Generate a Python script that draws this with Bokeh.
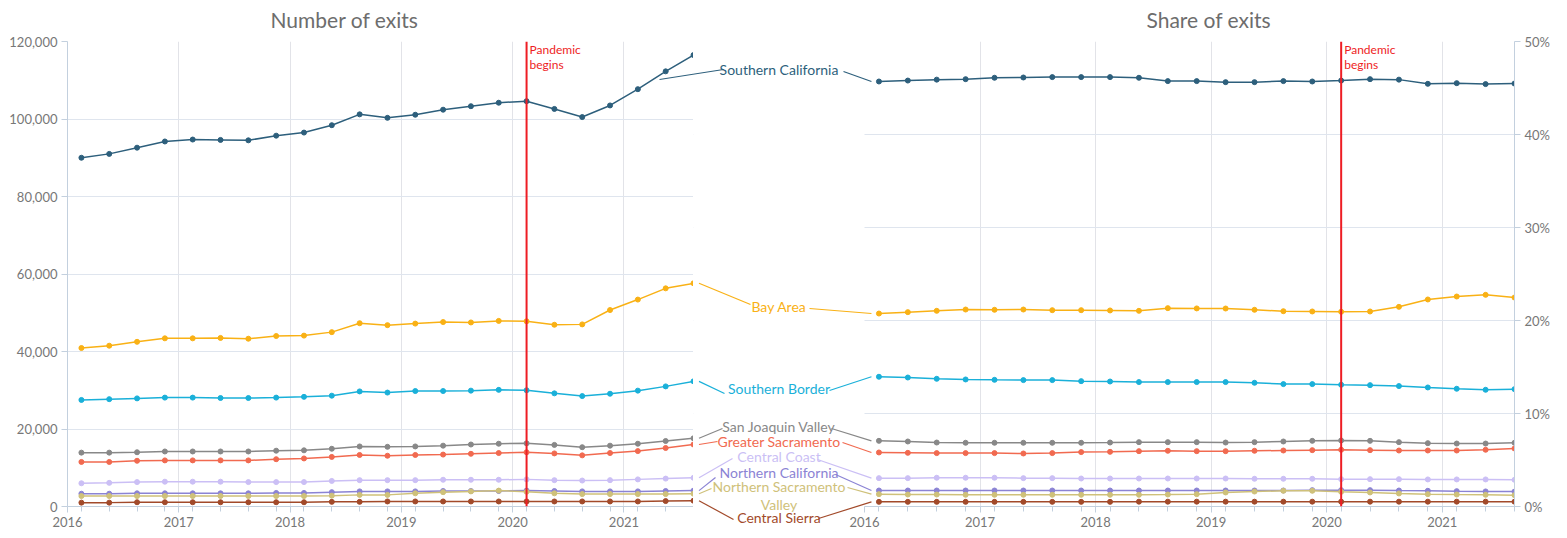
from bokeh.plotting import figure
from bokeh.models import Range1d, FixedTicker, NumeralTickFormatter, PrintfTickFormatter, Span, BoxAnnotation
from bokeh.layouts import row
from bokeh.embed import file_html
from bokeh.resources import INLINE
from bokeh.core.properties import value

# ---------------- data ----------------
dates = ["2016-02", "2016-05", "2016-08", "2016-11",
         "2017-02", "2017-05", "2017-08", "2017-11",
         "2018-02", "2018-05", "2018-08", "2018-11",
         "2019-02", "2019-05", "2019-08", "2019-11",
         "2020-02", "2020-05", "2020-08", "2020-11",
         "2021-02", "2021-05", "2021-08"]
year_ticks = [2016, 2017, 2018, 2019, 2020, 2021]
pandemic_date = "2020-02"
titles = ["Number of exits", "Share of exits"]

regions = ["Southern California", "Bay Area", "Southern Border", "San Joaquin Valley",
           "Greater Sacramento", "Central Coast", "Northern California",
           "Northern Sacramento Valley", "Central Sierra"]
region_labels = ["Southern California", "Bay Area", "Southern Border", "San Joaquin Valley",
                 "Greater Sacramento", "Central Coast", "Northern California",
                 "Northern Sacramento\nValley", "Central Sierra"]
colors = ["#2d5f7c", "#f9b115", "#1ab0d9", "#888888", "#f16a50",
          "#cbbff5", "#8b83d4", "#cfc17a", "#a24a2a"]

exits_socal = [90000, 91000, 92600, 94200, 94700, 94600, 94500, 95700, 96500, 98400, 101200, 100300,
               101100, 102400, 103300, 104200, 104600, 102600, 100500, 103500, 107700, 112300, 116500]
exits_bay = [40900, 41500, 42500, 43400, 43400, 43500, 43300, 44000, 44100, 45000, 47300, 46800,
             47200, 47600, 47500, 47900, 47800, 46900, 47000, 50700, 53400, 56300, 57600]
exits_border = [27500, 27700, 27900, 28100, 28100, 28000, 28000, 28100, 28300, 28600, 29700, 29400,
                29800, 29800, 29900, 30100, 30000, 29200, 28500, 29100, 29900, 31000, 32300]
exits_sjv = [13900, 13900, 14000, 14200, 14200, 14200, 14200, 14400, 14500, 14900, 15500, 15400,
             15500, 15700, 16000, 16200, 16300, 15900, 15300, 15700, 16200, 16900, 17600]
exits_gsac = [11500, 11500, 11800, 11900, 11900, 11900, 11900, 12200, 12400, 12800, 13300, 13100,
              13300, 13400, 13600, 13800, 14000, 13700, 13200, 13800, 14300, 15100, 16000]
exits_ccoast = [6000, 6100, 6300, 6400, 6400, 6400, 6300, 6300, 6300, 6600, 6800, 6800,
                6800, 6900, 6900, 6900, 7000, 6800, 6700, 6800, 7000, 7200, 7400]
exits_ncal = [3300, 3300, 3400, 3400, 3400, 3400, 3400, 3500, 3500, 3700, 3900, 3900,
              3900, 4000, 4000, 4000, 4100, 4000, 3900, 3900, 3900, 4000, 4100]
exits_nsac = [2700, 2700, 2700, 2700, 2700, 2700, 2700, 2700, 2700, 2800, 3000, 3000,
              3400, 3700, 3900, 4100, 3800, 3400, 3200, 3200, 3200, 3200, 3300]
exits_sierra = [1000, 1000, 1100, 1100, 1100, 1100, 1100, 1100, 1100, 1200, 1200, 1300,
                1300, 1300, 1300, 1300, 1300, 1300, 1300, 1300, 1300, 1400, 1500]

share_socal = [45.7, 45.8, 45.9, 45.95, 46.1, 46.13, 46.17, 46.17, 46.17, 46.1, 45.74, 45.74,
               45.63, 45.63, 45.74, 45.7, 45.8, 45.95, 45.9, 45.45, 45.52, 45.42, 45.48]
share_bay = [20.75, 20.9, 21.04, 21.18, 21.15, 21.18, 21.11, 21.11, 21.08, 21.04, 21.33, 21.3,
             21.29, 21.15, 21.0, 20.97, 20.94, 20.97, 21.47, 22.26, 22.58, 22.76, 22.47]
share_border = [13.95, 13.87, 13.73, 13.66, 13.62, 13.59, 13.59, 13.48, 13.44, 13.38, 13.38, 13.38,
                13.38, 13.3, 13.16, 13.16, 13.09, 13.05, 12.95, 12.8, 12.66, 12.55, 12.62]
share_sjv = [7.06, 6.99, 6.88, 6.85, 6.85, 6.85, 6.85, 6.85, 6.88, 6.92, 6.92, 6.92,
             6.88, 6.92, 6.99, 7.06, 7.1, 7.06, 6.92, 6.81, 6.77, 6.77, 6.85]
share_gsac = [5.81, 5.77, 5.74, 5.74, 5.74, 5.7, 5.74, 5.85, 5.88, 5.95, 5.99, 5.95,
              5.95, 5.99, 6.02, 6.06, 6.1, 6.06, 6.02, 6.02, 6.02, 6.1, 6.24]
share_ccoast = [3.05, 3.05, 3.09, 3.09, 3.09, 3.05, 3.05, 3.01, 3.01, 3.01, 3.01, 3.01,
                3.01, 2.98, 2.98, 2.98, 2.94, 2.94, 2.94, 2.91, 2.91, 2.91, 2.87]
share_ncal = [1.72, 1.72, 1.72, 1.72, 1.72, 1.72, 1.72, 1.72, 1.72, 1.72, 1.72, 1.72,
              1.72, 1.72, 1.72, 1.76, 1.76, 1.76, 1.72, 1.69, 1.65, 1.62, 1.6]
share_nsac = [1.33, 1.29, 1.29, 1.26, 1.26, 1.26, 1.26, 1.26, 1.26, 1.26, 1.29, 1.33,
              1.51, 1.61, 1.69, 1.69, 1.58, 1.51, 1.4, 1.33, 1.29, 1.26, 1.22]
share_sierra = [0.5, 0.5, 0.5, 0.5, 0.5, 0.5, 0.5, 0.5, 0.5, 0.52, 0.52, 0.52,
                0.52, 0.52, 0.52, 0.52, 0.52, 0.52, 0.52, 0.52, 0.52, 0.52, 0.52]

exits = [exits_socal, exits_bay, exits_border, exits_sjv, exits_gsac,
         exits_ccoast, exits_ncal, exits_nsac, exits_sierra]
shares = [share_socal, share_bay, share_border, share_sjv, share_gsac,
          share_ccoast, share_ncal, share_nsac, share_sierra]

# ---------------- layout (page pixels) ----------------
FONT = "Lato"
X0 = 2016.0


def dec_year(s):
    y, m = s.split("-")
    return int(y) + (int(m) - 0.5) / 12.0


xs = [dec_year(d) for d in dates]
X1 = xs[-1]
x_pan = dec_year(pandemic_date)

L_LEFT, L_RIGHT = 67, 693          # left frame
R_LEFT, R_2016, R_RIGHT = 693, 864, 1514  # right frame (label gap 693..864)
Y_TOP, Y_BOT = 41, 506
L_MAX, R_MAX = 120000, 50

ppy_l = (L_RIGHT - L_LEFT) / (X1 - X0)
ppy_r = (R_RIGHT - R_2016) / (X1 - X0)
r_start = X0 - (R_2016 - R_LEFT) / ppy_r

def l_px(x): return L_LEFT + (x - X0) * ppy_l
def l_py(v): return Y_BOT - v / L_MAX * (Y_BOT - Y_TOP)
def l_x(px): return X0 + (px - L_LEFT) / ppy_l
def l_y(py): return (Y_BOT - py) / (Y_BOT - Y_TOP) * L_MAX
def r_px(x): return R_2016 + (x - X0) * ppy_r
def r_py(v): return Y_BOT - v / R_MAX * (Y_BOT - Y_TOP)
def r_x(px): return X0 + (px - R_2016) / ppy_r
def r_y(py): return (Y_BOT - py) / (Y_BOT - Y_TOP) * R_MAX

# titles (page px: left edge, baseline)
title_pos = [(270, 19), (1146, 19)]

# label positions in the gap (page px)
label_cx = 778.5
label_y = [69, 306, 388, 426, 441, 456, 472, 486, 517]
left_in_x = [723, 750, 724, 722, 717, 732, 715, 711, 733]
left_in_y = [69, 304, 393, 428, 441, 458, 477, 488, 519]
right_in_x = [843, 809, 829, 831, 842, 817, 835, 847, 818]
right_in_y = [71, 308, 390, 428, 442, 459, 474, 487, 518]
socal_left_start = (659, 79)

AXIS_C = "#c3d0de"
HGRID_C = "#dfe5ee"
VGRID_C = "#e2e3e8"
TICK_TXT = "#777777"
RED = "#ee1d24"
TITLE_C = "#6d6d6d"


def style(p):
    p.outline_line_color = None
    p.background_fill_color = "white"
    p.border_fill_color = "white"
    for ax in p.axis:
        ax.axis_line_color = AXIS_C
        ax.major_tick_line_color = AXIS_C
        ax.minor_tick_line_color = AXIS_C
        ax.major_tick_in = 0
        ax.major_tick_out = 6
        ax.minor_tick_in = 0
        ax.minor_tick_out = 5
        ax.major_label_text_font = FONT
        ax.major_label_text_font_size = "13px"
        ax.major_label_text_color = TICK_TXT
        ax.major_label_standoff = 4
    p.xaxis.ticker = FixedTicker(ticks=year_ticks, minor_ticks=xs)
    p.xaxis.formatter = PrintfTickFormatter(format="%d")
    p.xgrid.ticker = FixedTicker(ticks=year_ticks[1:])
    p.xgrid.grid_line_color = VGRID_C
    p.ygrid.grid_line_color = HGRID_C
    p.yaxis.minor_tick_line_color = None


def title_text(p, txt, x, y):
    p.text(x=[x], y=[y], text=[txt], text_align="left", text_baseline="alphabetic",
           text_font=value(FONT), text_font_size="21px", text_color=TITLE_C,
           level="overlay")


def pandemic(p, ytop):
    p.add_layout(Span(location=x_pan, dimension="height", line_color=RED, line_width=2))
    p.text(x=[x_pan, x_pan], y=[ytop, ytop], text=["Pandemic", "begins"],
           x_offset=3, y_offset=[0, 15], text_baseline="top", text_align="left",
           text_font=value(FONT), text_font_size="12px", text_color=RED)


# ---------------- left: number of exits ----------------
p1 = figure(width=L_RIGHT, height=536, x_range=Range1d(X0, X1), y_range=Range1d(0, L_MAX),
            output_backend="svg", toolbar_location=None,
            min_border_left=L_LEFT, min_border_right=0, min_border_top=Y_TOP, min_border_bottom=30)
style(p1)
p1.yaxis.ticker = FixedTicker(ticks=[0, 20000, 40000, 60000, 80000, 100000, 120000])
p1.yaxis.formatter = NumeralTickFormatter(format="0,0")
p1.ygrid.ticker = FixedTicker(ticks=[20000, 40000, 60000, 80000, 100000, 120000])
title_text(p1, titles[0], l_x(title_pos[0][0]), l_y(title_pos[0][1]))

for vals, c in zip(exits, colors):
    p1.line(xs, vals, line_color=c, line_width=1.5)
    p1.scatter(xs, vals, size=5, fill_color=c, line_color=c)
pandemic(p1, L_MAX)

# Southern California leader starts inside the left plot
sx0, sy0 = socal_left_start
p1.segment(x0=[l_x(sx0)], y0=[l_y(sy0)], x1=[l_x(left_in_x[0])], y1=[l_y(left_in_y[0])],
           line_color=colors[0], line_width=1.2)

# ---------------- right: share of exits ----------------
p2 = figure(width=866, height=536, x_range=Range1d(r_start, X1), y_range=Range1d(0, R_MAX),
            output_backend="svg", toolbar_location=None,
            y_axis_location="right",
            min_border_left=0, min_border_right=45, min_border_top=Y_TOP, min_border_bottom=30)
style(p2)
p2.xaxis.bounds = (X0, X1)
p2.yaxis.ticker = FixedTicker(ticks=[0, 10, 20, 30, 40, 50])
p2.yaxis.formatter = PrintfTickFormatter(format="%d%%")
p2.ygrid.ticker = FixedTicker(ticks=[10, 20, 30, 40, 50])
# keep the label gap free of grid lines
p2.add_layout(BoxAnnotation(right=X0, fill_color="white", fill_alpha=1.0,
                            line_alpha=0, level="underlay"))
title_text(p2, titles[1], r_x(title_pos[1][0]), r_y(title_pos[1][1]))

for vals, c in zip(shares, colors):
    p2.line(xs, vals, line_color=c, line_width=1.5)
    p2.scatter(xs, vals, size=5, fill_color=c, line_color=c)
pandemic(p2, R_MAX)

# labels and leader lines in the gap
for i, (lab, c) in enumerate(zip(region_labels, colors)):
    if i == 0:
        ox, oy = socal_left_start
    else:
        ox, oy = L_RIGHT + 5.5, l_py(exits[i][-1])
    ex, ey = r_px(xs[0]) - 7.5, r_py(shares[i][0])
    p2.segment(x0=[r_x(ox), r_x(right_in_x[i])], y0=[r_y(oy), r_y(right_in_y[i])],
               x1=[r_x(left_in_x[i]), r_x(ex)], y1=[r_y(left_in_y[i]), r_y(ey)],
               line_color=c, line_width=1.2, level="overlay")
    for k, line in enumerate(lab.split("\n")):
        p2.text(x=[r_x(label_cx)], y=[r_y(label_y[i] + 18 * k)], text=[line],
                text_align="center", text_baseline="middle",
                text_font=value(FONT), text_font_size="14px", text_color=c,
                level="overlay")

layout = row(p1, p2)
open("out.html", "w").write(file_html(layout, INLINE))
